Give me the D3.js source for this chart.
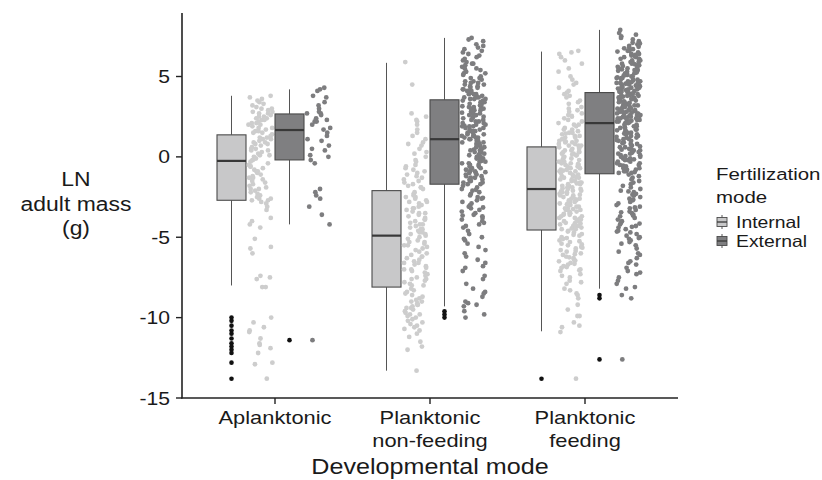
<!DOCTYPE html>
<html>
<head>
<meta charset="utf-8">
<script src="https://cdn.jsdelivr.net/npm/d3@7"></script>
<style>
  body { margin: 0; background: #fff; }
  text { font-family: "Liberation Sans", Arial, sans-serif; fill: #1a1a1a; }
</style>
</head>
<body>
<div id="chart"></div>
<script>
// categories and groups
var categories = ["Aplanktonic", "Planktonic non-feeding", "Planktonic feeding"];
var catLabels = [["Aplanktonic"], ["Planktonic", "non-feeding"], ["Planktonic", "feeding"]];
var groups = ["Internal", "External"];
var yTicks = [-15, -10, -5, 0, 5];

// box stats: [lower whisker, q1, median, q3, upper whisker]
var intStats = [[-8.0, -2.7, -0.25, 1.37, 3.8], [-13.3, -8.1, -4.9, -2.1, 5.85], [-10.85, -4.55, -2.0, 0.62, 6.55]];
var extStats = [[-4.2, -0.19, 1.67, 2.67, 4.2], [-9.3, -1.7, 1.1, 3.55, 7.4], [-8.2, -1.05, 2.1, 4.0, 7.9]];
var intOutliers = [[-10.0, -10.2, -10.5, -10.8, -11.0, -11.3, -11.6, -11.8, -12.0, -12.2, -12.8, -13.8], [], [-13.8]];
var extOutliers = [[-11.4], [-9.6, -9.8, -10.0], [-8.6, -8.8, -12.6]];

// raw species values (jittered points)
var aplInt = [3.8,3.7,3.6,3.5,3.4,3.3,3.2,3.1,3.0,3.0,2.9,2.8,2.8,2.7,2.7,2.6,2.5,2.5,2.4,2.4,2.3,2.3,2.2,2.1,2.1,2.0,2.0,1.9,1.8,1.8,1.7,1.6,1.6,1.5,1.5,1.4,1.3,1.2,1.2,1.1,1.1,1.0,0.9,0.9,0.8,0.8,0.7,0.6,0.5,0.5,0.4,0.4,0.3,0.2,0.1,0.1,0.0,-0.1,-0.2,-0.2,-0.3,-0.4,-0.5,-0.6,-0.6,-0.7,-0.8,-0.9,-0.9,-1.0,-1.1,-1.2,-1.3,-1.3,-1.4,-1.5,-1.6,-1.7,-1.8,-1.9,-2.0,-2.0,-2.1,-2.2,-2.3,-2.4,-2.5,-2.6,-2.6,-2.7,-2.7,-2.8,-2.9,-3.1,-3.3,-3.8,-4.0,-4.2,-4.4,-5.1,-5.6,-5.7,-6.0,-7.4,-7.5,-7.6,-8.1,-8.1,-10.0,-10.3,-10.6,-10.8,-10.9,-11.3,-11.6,-11.7,-11.9,-12.2,-12.8,-12.9,-13.8];
var aplExt = [4.3,4.2,4.1,3.8,3.7,3.4,3.2,3.0,2.8,2.7,2.7,2.6,2.4,2.3,2.2,2.2,2.0,1.8,1.7,1.5,1.3,1.1,1.0,0.7,0.5,0.4,0.1,0.0,-0.2,-0.4,-2.0,-2.2,-2.4,-2.6,-3.1,-3.6,-4.2,-11.4];
var nfInt = [5.9,4.5,2.7,2.5,2.3,2.2,2.0,1.7,1.5,1.3,1.1,0.9,0.8,0.7,0.5,0.3,0.2,0.0,-0.2,-0.3,-0.5,-0.6,-0.7,-0.8,-0.9,-1.0,-1.1,-1.2,-1.3,-1.4,-1.5,-1.6,-1.7,-1.8,-1.9,-1.9,-2.0,
  -2.2,-2.3,-2.3,-2.4,-2.5,-2.5,-2.6,-2.7,-2.8,-2.8,-2.9,-3.0,-3.1,-3.2,-3.2,-3.3,-3.4,-3.5,-3.5,-3.6,-3.7,-3.8,-3.9,-3.9,-4.0,-4.1,-4.2,-4.2,-4.3,-4.4,-4.5,-4.5,-4.6,-4.7,-4.7,-4.8,-4.8,-4.9,
  -5.0,-5.1,-5.2,-5.3,-5.3,-5.4,-5.5,-5.5,-5.6,-5.7,-5.8,-5.9,-6.0,-6.1,-6.2,-6.2,-6.3,-6.4,-6.5,-6.6,-6.6,-6.7,-6.8,-6.9,-7.0,-7.0,-7.1,-7.2,-7.3,-7.4,-7.5,-7.6,-7.6,-7.7,-7.8,-7.9,-8.0,-8.0,
  -8.2,-8.3,-8.4,-8.5,-8.6,-8.7,-8.8,-8.9,-9.0,-9.0,-9.1,-9.2,-9.2,-9.3,-9.4,-9.4,-9.5,-9.6,-9.7,-9.8,-9.8,-9.9,-10.0,-10.1,-10.2,-10.3,-10.4,-10.5,-10.6,-10.7,-10.8,-11.0,-11.2,-11.5,-11.8,-12.0,-13.3];
var nfExt = [7.4,7.3,7.2,7.0,6.9,6.8,6.7,6.6,6.5,6.4,6.3,6.2,6.1,6.0,5.9,5.8,5.8,5.7,5.6,5.5,5.5,5.4,5.3,5.3,5.2,5.2,5.1,5.0,4.9,4.9,4.8,4.7,4.7,4.6,4.6,4.5,4.5,4.4,4.4,4.3,4.3,4.2,4.2,4.1,4.1,4.0,4.0,4.0,3.9,3.9,3.9,3.8,3.8,3.8,3.7,3.7,3.7,3.6,3.6,3.6,
  3.5,3.5,3.4,3.4,3.4,3.3,3.3,3.2,3.2,3.15,3.1,3.1,3.0,3.0,3.0,2.9,2.9,2.8,2.8,2.75,2.7,2.7,2.6,2.6,2.6,2.5,2.5,2.4,2.4,2.3,2.3,2.2,2.2,2.1,2.1,2.0,2.0,1.95,1.9,1.9,1.9,1.8,1.8,1.7,1.7,1.6,1.6,1.6,1.5,1.5,1.4,1.4,1.3,1.3,1.3,1.2,1.2,1.2,1.1,1.1,
  1.0,1.0,0.9,0.9,0.85,0.8,0.8,0.7,0.7,0.6,0.6,0.5,0.5,0.45,0.4,0.4,0.3,0.3,0.2,0.2,0.1,0.1,0.0,0.0,-0.1,-0.1,-0.2,-0.2,-0.25,-0.3,-0.3,-0.4,-0.4,-0.5,-0.5,-0.6,-0.6,-0.7,-0.7,-0.8,-0.8,-0.9,-0.9,-0.95,-1.0,-1.0,-1.1,-1.1,-1.2,-1.2,-1.3,-1.3,-1.4,-1.4,-1.5,-1.5,-1.6,-1.6,-1.7,-1.7,
  -1.8,-1.9,-2.0,-2.05,-2.1,-2.2,-2.3,-2.4,-2.5,-2.55,-2.6,-2.7,-2.8,-2.9,-3.0,-3.1,-3.15,-3.2,-3.3,-3.4,-3.5,-3.6,-3.65,-3.7,-3.8,-3.9,-4.0,-4.1,-4.2,-4.3,-4.4,-4.6,-4.8,-5.0,-5.1,-5.2,-5.4,-5.6,-5.8,-6.0,-6.2,-6.4,-6.6,-6.8,-6.9,-7.1,-7.4,-7.6,-7.9,-8.2,-8.4,-8.5,-8.7,-9.0,-9.1,-9.2,-9.3,-9.6,-9.8,-10.0];
var fInt = [6.6,6.5,6.4,6.2,6.0,5.8,5.5,5.3,5.0,4.8,4.6,4.5,4.3,4.1,4.0,3.9,3.8,3.7,3.5,3.4,3.3,3.1,3.0,2.9,2.8,2.7,2.6,2.55,2.5,2.4,2.3,2.2,2.1,2.0,2.0,1.9,1.8,1.7,1.7,1.6,1.5,1.5,1.45,1.4,1.3,1.3,1.2,1.2,1.1,1.1,1.0,1.0,0.95,0.9,0.9,0.8,0.8,0.7,0.7,0.7,
  0.6,0.6,0.5,0.5,0.4,0.4,0.3,0.3,0.3,0.2,0.2,0.15,0.1,0.1,0.0,0.0,-0.1,-0.1,-0.2,-0.2,-0.3,-0.3,-0.4,-0.4,-0.45,-0.5,-0.5,-0.6,-0.6,-0.7,-0.7,-0.8,-0.8,-0.85,-0.9,-0.9,-1.0,-1.0,-1.1,-1.1,-1.2,-1.2,-1.25,-1.3,-1.3,-1.4,-1.4,-1.5,-1.5,-1.6,-1.6,-1.65,-1.7,-1.7,-1.8,-1.8,-1.9,-1.9,-1.95,-2.0,
  -2.0,-2.1,-2.1,-2.15,-2.2,-2.2,-2.3,-2.3,-2.35,-2.4,-2.4,-2.5,-2.5,-2.6,-2.6,-2.65,-2.7,-2.7,-2.8,-2.8,-2.9,-2.9,-2.95,-3.0,-3.0,-3.1,-3.1,-3.2,-3.2,-3.25,-3.3,-3.3,-3.4,-3.4,-3.5,-3.5,-3.55,-3.6,-3.6,-3.7,-3.7,-3.8,-3.8,-3.85,-3.9,-3.9,-4.0,-4.0,-4.1,-4.1,-4.15,-4.2,-4.2,-4.3,-4.3,-4.4,-4.4,-4.45,-4.5,-4.5,
  -4.6,-4.65,-4.7,-4.8,-4.85,-4.9,-5.0,-5.05,-5.1,-5.2,-5.25,-5.3,-5.4,-5.45,-5.5,-5.6,-5.65,-5.7,-5.8,-5.85,-5.9,-6.0,-6.05,-6.1,-6.2,-6.25,-6.3,-6.4,-6.45,-6.5,-6.6,-6.65,-6.7,-6.8,-6.85,-6.9,-7.0,-7.05,-7.1,-7.3,-7.4,-7.5,-7.7,-7.8,-7.9,-8.2,-8.3,-8.5,-8.6,-8.8,-9.2,-9.5,-9.9,-9.9,-10.3,-10.5,-10.6,-10.9,-13.8];
var fExt = [7.9,7.7,7.6,7.5,7.4,7.3,7.2,7.1,7.05,7.0,6.9,6.85,6.8,6.75,6.7,6.6,6.6,6.55,6.5,6.4,6.4,6.35,6.3,6.25,6.2,6.2,6.1,6.1,6.0,6.0,5.95,5.9,5.85,5.8,5.8,5.75,5.7,5.7,5.65,5.6,5.55,5.5,5.5,5.45,5.4,5.4,5.35,5.3,5.3,5.25,5.2,5.2,5.15,5.1,5.1,5.05,5.0,5.0,4.95,4.9,4.9,4.9,4.85,4.8,4.8,4.75,4.7,4.7,4.7,4.65,4.6,4.6,4.6,4.55,4.5,4.5,4.5,4.45,4.4,4.4,4.4,4.35,4.3,4.3,4.3,4.25,4.2,4.2,4.2,4.15,4.1,4.1,4.1,4.05,
  4.0,4.0,4.0,3.95,3.9,3.9,3.9,3.85,3.8,3.8,3.8,3.75,3.7,3.7,3.7,3.65,3.6,3.6,3.6,3.5,3.5,3.5,3.45,3.4,3.4,3.4,3.35,3.3,3.3,3.3,3.2,3.2,3.2,3.15,3.1,3.1,3.1,3.05,3.0,3.0,3.0,2.9,2.9,2.9,2.85,2.8,2.8,2.8,2.75,2.7,2.7,2.7,2.65,2.6,2.6,2.6,2.55,2.5,2.5,2.5,2.45,2.4,2.4,2.4,2.3,2.3,2.3,2.25,2.2,2.2,2.2,2.15,2.1,2.1,2.1,
  2.0,2.0,1.9,1.9,1.85,1.8,1.8,1.7,1.7,1.65,1.6,1.6,1.5,1.5,1.45,1.4,1.4,1.3,1.3,1.25,1.2,1.2,1.1,1.1,1.05,1.0,1.0,0.9,0.9,0.85,0.8,0.8,0.7,0.7,0.65,0.6,0.6,0.5,0.5,0.45,0.4,0.4,0.3,0.3,0.25,0.2,0.2,0.1,0.1,0.05,0.0,0.0,-0.1,-0.1,-0.15,-0.2,-0.2,-0.3,-0.3,-0.4,-0.4,-0.5,-0.5,-0.55,-0.6,-0.6,-0.7,-0.7,-0.8,-0.8,-0.9,-0.9,-0.95,-1.0,-1.0,
  -1.1,-1.2,-1.3,-1.4,-1.5,-1.6,-1.7,-1.8,-1.9,-2.0,-2.1,-2.15,-2.2,-2.3,-2.35,-2.4,-2.5,-2.6,-2.65,-2.7,-2.8,-2.9,-3.0,-3.1,-3.15,-3.2,-3.3,-3.4,-3.45,-3.5,-3.6,-3.65,-3.7,-3.8,-3.9,-4.0,-4.1,-4.15,-4.2,-4.3,-4.35,-4.4,-4.5,-4.6,-4.65,-4.7,-4.8,-4.9,-5.0,-5.05,-5.1,-5.2,-5.3,-5.4,-5.5,-5.7,-5.9,-6.0,-6.1,-6.3,-6.5,-6.6,-6.7,-6.9,-7.1,-7.2,-7.3,-7.5,-7.7,-7.9,-8.1,-8.2,-8.6,-8.8,-12.6];

var intPoints = [aplInt, nfInt, fInt];
var extPoints = [aplExt, nfExt, fExt];

var colors = {
  Internal: {box: "#c8c8c9", pt: "#cdcdcd"},
  External: {box: "#7f7f81", pt: "#7d7d7f"}
};

var width = 822, height = 480;
var stretch = 1.175; // text is drawn a little wide in the reference

var svg = d3.select("#chart").append("svg")
  .attr("width", width)
  .attr("height", height);

var x = d3.scalePoint()
  .domain(categories)
  .range([182, 678])
  .padding(0.6);

var y = d3.scaleLinear()
  .domain([-15, 8.95])
  .range([398, 13]);

// four sub-columns per category: box, points, box, points
var sub = d3.scaleBand()
  .domain(["boxI", "ptsI", "boxE", "ptsE"])
  .range([-58, 58]);
var boxW = 29;

function jit(i, seed) {
  var v = Math.sin((i + 1) * 12.9898 + seed * 78.233) * 43758.5453;
  return (v - Math.floor(v)) * 2 - 1;
}

function label(g, str, tx, ty, size, anchor) {
  return g.append("text")
    .attr("transform", "translate(" + tx + "," + ty + ") scale(" + stretch + ",1)")
    .attr("text-anchor", anchor || "start")
    .style("font-size", size + "px")
    .text(str);
}

var plot = svg.append("g");

categories.forEach(function(cat, ci) {
  var cx = x(cat);
  [["Internal", intStats[ci], intOutliers[ci], intPoints[ci], "I"],
   ["External", extStats[ci], extOutliers[ci], extPoints[ci], "E"]].forEach(function(d, gi) {
    var s = d[1];
    var bx = cx + sub("box" + d[4]) + sub.bandwidth() / 2;
    var px = cx + sub("pts" + d[4]) + sub.bandwidth() / 2;
    var col = colors[d[0]];

    // whiskers
    plot.append("line")
      .attr("x1", bx).attr("x2", bx)
      .attr("y1", y(s[4])).attr("y2", y(s[3]))
      .attr("stroke", "#555").attr("stroke-width", 1);
    plot.append("line")
      .attr("x1", bx).attr("x2", bx)
      .attr("y1", y(s[1])).attr("y2", y(s[0]))
      .attr("stroke", "#555").attr("stroke-width", 1);
    // box
    plot.append("rect")
      .attr("x", bx - boxW / 2).attr("width", boxW)
      .attr("y", y(s[3])).attr("height", y(s[1]) - y(s[3]))
      .attr("fill", col.box)
      .attr("stroke", "#4a4a4a").attr("stroke-width", 1.1);
    plot.append("line")
      .attr("x1", bx - boxW / 2).attr("x2", bx + boxW / 2)
      .attr("y1", y(s[2])).attr("y2", y(s[2]))
      .attr("stroke", "#383838").attr("stroke-width", 2.2);
    // outliers
    plot.selectAll(null)
      .data(d[2])
      .enter().append("circle")
      .attr("cx", bx)
      .attr("cy", function(v) { return y(v); })
      .attr("r", 2.3)
      .attr("fill", "#111");
    // jittered points
    plot.selectAll(null)
      .data(d[3])
      .enter().append("circle")
      .attr("cx", function(v, i) { return px + jit(i, ci * 2 + gi) * 12; })
      .attr("cy", function(v) { return y(v); })
      .attr("r", 2.4)
      .attr("fill", col.pt);
  });
});

// axes
var axes = svg.append("g");
axes.append("line")
  .attr("x1", 182).attr("x2", 182)
  .attr("y1", 13).attr("y2", 398.5)
  .attr("stroke", "#222").attr("stroke-width", 1.6);
axes.append("line")
  .attr("x1", 181.2).attr("x2", 678)
  .attr("y1", 398).attr("y2", 398)
  .attr("stroke", "#222").attr("stroke-width", 1.6);

yTicks.forEach(function(t) {
  axes.append("line")
    .attr("x1", 176).attr("x2", 182)
    .attr("y1", y(t)).attr("y2", y(t))
    .attr("stroke", "#222").attr("stroke-width", 1.4);
  label(axes, String(t), 170, y(t) + 6.5, 18, "end");
});

categories.forEach(function(cat, ci) {
  axes.append("line")
    .attr("x1", x(cat)).attr("x2", x(cat))
    .attr("y1", 398).attr("y2", 404)
    .attr("stroke", "#222").attr("stroke-width", 1.4);
  catLabels[ci].forEach(function(line, li) {
    label(axes, line, x(cat), 424 + li * 23, 18.6, "middle");
  });
});

label(axes, "Developmental mode", 430, 474, 21.4, "middle");

var yTitle = ["LN", "adult mass", "(g)"];
yTitle.forEach(function(line, i) {
  label(axes, line, 76, 186 + i * 24.5, 19.5, "middle");
});

// legend
var legend = svg.append("g");
label(legend, "Fertilization", 716, 180, 17.4, "start");
label(legend, "mode", 716, 203, 17.4, "start");
groups.forEach(function(gname, i) {
  var ky = 222 + i * 19;
  var k = legend.append("g");
  k.append("line")
    .attr("x1", 722).attr("x2", 722)
    .attr("y1", ky - 7).attr("y2", ky + 7)
    .attr("stroke", "#555").attr("stroke-width", 1);
  k.append("rect")
    .attr("x", 717).attr("y", ky - 4.5)
    .attr("width", 10).attr("height", 9)
    .attr("fill", colors[gname].box)
    .attr("stroke", "#4a4a4a").attr("stroke-width", 0.9);
  k.append("line")
    .attr("x1", 717).attr("x2", 727)
    .attr("y1", ky).attr("y2", ky)
    .attr("stroke", "#383838").attr("stroke-width", 1.3);
  label(legend, gname, 736, ky + 6, 16.5, "start");
});
</script>
</body>
</html>
